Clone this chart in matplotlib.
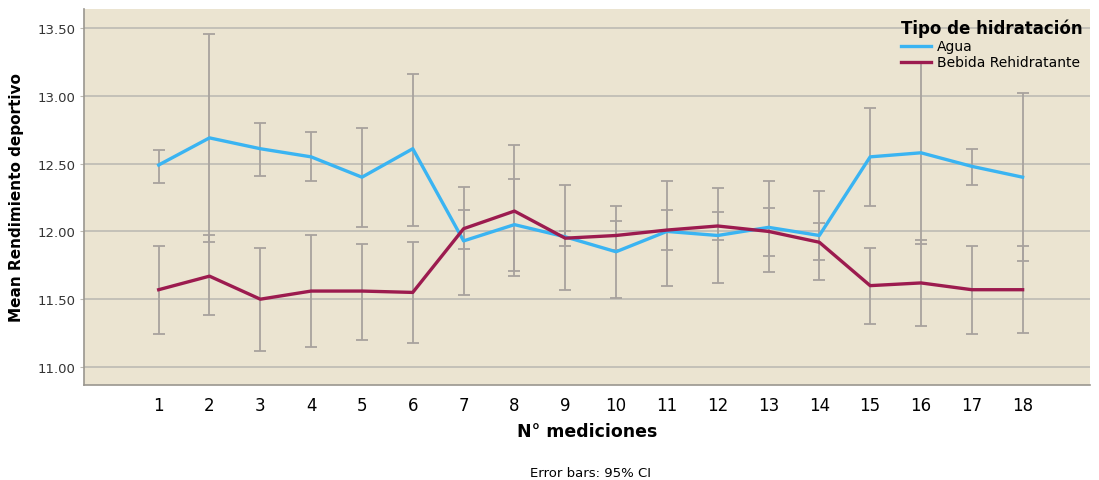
import numpy as np
import matplotlib
matplotlib.use("Agg")
import matplotlib.pyplot as plt

# medición number
mediciones = list(range(1, 19))

# Agua: mean and 95% CI
agua_mean = [12.49, 12.69, 12.61, 12.55, 12.40, 12.61, 11.93, 12.05, 11.96,
             11.85, 12.00, 11.97, 12.03, 11.97, 12.55, 12.58, 12.48, 12.40]
agua_low = [12.36, 11.92, 12.41, 12.37, 12.03, 12.04, 11.53, 11.71, 11.57,
            11.51, 11.60, 11.62, 11.70, 11.64, 12.19, 11.91, 12.34, 11.78]
agua_high = [12.60, 13.46, 12.80, 12.73, 12.76, 13.16, 12.33, 12.39, 12.34,
             12.19, 12.37, 12.32, 12.37, 12.30, 12.91, 13.25, 12.61, 13.02]

# Bebida Rehidratante: mean and 95% CI
bebida_mean = [11.57, 11.67, 11.50, 11.56, 11.56, 11.55, 12.02, 12.15, 11.95,
               11.97, 12.01, 12.04, 12.00, 11.92, 11.60, 11.62, 11.57, 11.57]
bebida_low = [11.24, 11.38, 11.12, 11.15, 11.20, 11.18, 11.87, 11.67, 11.89,
              11.86, 11.86, 11.94, 11.82, 11.79, 11.32, 11.30, 11.24, 11.25]
bebida_high = [11.89, 11.97, 11.88, 11.97, 11.91, 11.92, 12.16, 12.64, 12.00,
               12.08, 12.16, 12.14, 12.17, 12.06, 11.88, 11.94, 11.89, 11.89]

y_ticks = [11.0, 11.5, 12.0, 12.5, 13.0, 13.5]

bg = "#EBE4D1"
bar_color = "#A8A29E"
blue = "#3AB4F2"
red = "#9C1B4F"

fig = plt.figure(figsize=(10.99, 4.81), dpi=100)
ax = fig.add_axes([0.0764, 0.1975, 0.9156, 0.7815])
ax.set_facecolor(bg)

x = np.array(mediciones)
for mean, low, high in [(agua_mean, agua_low, agua_high),
                        (bebida_mean, bebida_low, bebida_high)]:
    mean = np.array(mean)
    yerr = [mean - np.array(low), np.array(high) - mean]
    ax.errorbar(x, mean, yerr=yerr, fmt="none", ecolor=bar_color,
                elinewidth=1.3, capsize=4.3, capthick=1.3, zorder=2)

ax.plot(x, agua_mean, color=blue, lw=2.4, label="Agua", zorder=3)
ax.plot(x, bebida_mean, color=red, lw=2.4, label="Bebida Rehidratante", zorder=3)

ax.set_xlim(-0.47, 19.33)
ax.set_ylim(10.867, 13.64)
ax.set_xticks(x)
ax.set_xticklabels([str(m) for m in mediciones], fontsize=12)
ax.set_yticks(y_ticks)
ax.set_yticklabels(["%.2f" % v for v in y_ticks], fontsize=9.5, color="#333333")
ax.tick_params(axis="x", length=0, pad=8)
ax.tick_params(axis="y", length=3, color="#BDBAB3", pad=3)
ax.grid(axis="y", color="#BDBAB3", lw=1.2, zorder=1)
ax.set_axisbelow(True)
for s in ["top", "right"]:
    ax.spines[s].set_visible(False)
for s in ["left", "bottom"]:
    ax.spines[s].set_color("#9A968F")
    ax.spines[s].set_linewidth(1.2)

ax.set_xlabel("N° mediciones", fontsize=12.5, fontweight="bold", labelpad=6)
ax.set_ylabel("Mean Rendimiento deportivo", fontsize=11, fontweight="bold", labelpad=10)

leg = ax.legend(title="Tipo de hidratación", loc="upper right",
                bbox_to_anchor=(1.002, 1.0), frameon=False, fontsize=10,
                handlelength=2.2, handletextpad=0.4, labelspacing=0.15,
                borderaxespad=0.3)
leg.get_title().set_fontweight("bold")
leg.get_title().set_fontsize(12)
leg._legend_box.align = "left"

fig.text(0.537, 0.003, "Error bars: 95% CI", ha="center", va="bottom", fontsize=9.5)

fig.savefig("out.png", dpi=100, facecolor="white")
